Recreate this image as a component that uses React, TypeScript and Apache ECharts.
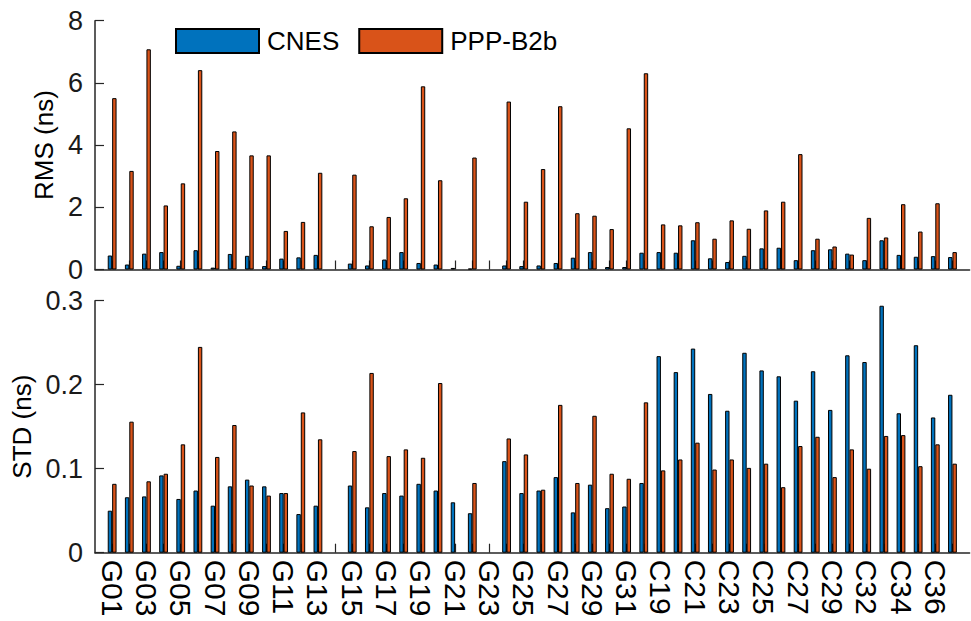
import React, { useEffect, useRef } from "react";
import * as echarts from "echarts";

const categories = [
  "G01","G02","G03","G04","G05","G06","G07","G08","G09","G10",
  "G11","G12","G13","G14","G15","G16","G17","G18","G19","G20",
  "G21","G22","G23","G24","G25","G26","G27","G28","G29","G30",
  "G31","G32","C19","C20","C21","C22","C23","C24","C25","C26",
  "C27","C28","C29","C30","C32","C33","C34","C35","C36","C37",
];

const rmsCNES = [
  0.45,0.16,0.51,0.56,0.12,0.62,0.06,0.50,0.44,0.11,
  0.35,0.39,0.47,null,0.19,0.13,0.32,0.56,0.21,0.16,
  0.05,0.03,null,0.13,0.11,0.13,0.21,0.38,0.56,0.08,
  0.08,0.54,0.56,0.54,0.94,0.36,0.24,0.44,0.68,0.70,
  0.30,0.62,0.65,0.51,0.30,0.94,0.47,0.41,0.43,0.40,
];
const rmsPPP = [
  5.51,3.17,7.08,2.06,2.77,6.41,3.81,4.44,3.67,3.67,
  1.24,1.53,3.11,null,3.05,1.39,1.69,2.29,5.89,2.87,
  null,3.60,null,5.40,2.18,3.23,5.25,1.81,1.73,1.30,
  4.54,6.31,1.45,1.42,1.52,0.99,1.58,1.31,1.90,2.18,
  3.71,0.99,0.74,0.48,1.66,1.03,2.10,1.22,2.13,0.56,
];
const stdCNES = [
  0.050,0.066,0.067,0.092,0.064,0.074,0.056,0.079,0.087,0.079,
  0.071,0.046,0.056,null,0.080,0.054,0.071,0.068,0.082,0.074,
  0.060,0.047,null,0.109,0.071,0.074,0.090,0.048,0.081,0.053,
  0.055,0.083,0.234,0.215,0.243,0.189,0.169,0.238,0.217,0.210,
  0.181,0.216,0.170,0.235,0.227,0.294,0.166,0.247,0.161,0.188,
];
const stdPPP = [
  0.082,0.156,0.085,0.094,0.129,0.245,0.114,0.152,0.080,0.068,
  0.071,0.167,0.135,null,0.121,0.214,0.115,0.123,0.113,0.202,
  null,0.083,null,0.136,0.117,0.075,0.176,0.083,0.163,0.094,
  0.088,0.179,0.098,0.111,0.131,0.099,0.111,0.101,0.106,0.078,
  0.127,0.138,0.090,0.123,0.100,0.139,0.140,0.103,0.129,0.106,
];

const rmsTicks = { min: 0, max: 8, interval: 2 };
const stdTicks = { min: 0, max: 0.3, interval: 0.1 };

const BLUE = "#0072BD";
const ORANGE = "#D95319";
const INK = "#262626";
const FONT = "'Liberation Sans', Arial, sans-serif";

export default function App() {
  const ref = useRef<HTMLDivElement>(null);
  useEffect(() => {
    if (!ref.current) return;
    const chart = echarts.init(ref.current, null, { renderer: "svg" });
    const padded = ["", ...categories, ""];
    const pad = (a: (number | null)[]) => [null, ...a, null];
    const axisLine = { show: true, lineStyle: { color: INK, width: 1.5 } };
    const xAxisBase = (gridIndex: number, showLabels: boolean) => ({
      type: "category",
      gridIndex,
      data: padded,
      boundaryGap: false,
      axisLine,
      axisTick: {
        show: true,
        inside: true,
        length: 9,
        lineStyle: { color: INK, width: 1.2 },
        interval: (_i: number, v: string) => v !== "",
      },
      axisLabel: {
        show: showLabels,
        rotate: -90,
        margin: 7,
        fontSize: 30,
        fontFamily: FONT,
        color: "#000",
        interval: (i: number) => i % 2 === 1,
      },
      splitLine: { show: false },
    });
    const yAxisBase = (gridIndex: number, name: string, t: any, nameGap: number) => ({
      type: "value",
      gridIndex,
      min: t.min,
      max: t.max,
      interval: t.interval,
      name,
      nameLocation: "middle",
      nameGap,
      nameTextStyle: { fontSize: 26, fontFamily: FONT, color: "#000" },
      axisLine,
      axisTick: { show: true, inside: true, length: 9, lineStyle: { color: INK, width: 1.2 } },
      axisLabel: {
        fontSize: 27,
        fontFamily: FONT,
        color: "#1a1a1a",
        margin: 12,
        formatter: (v: number) => String(Math.round(v * 10) / 10),
      },
      splitLine: { show: false },
    });
    const barBase = {
      type: "bar",
      barWidth: 4.4,
      barGap: "0%",
      itemStyle: { borderColor: "#000", borderWidth: 1 },
    };
    chart.setOption({
      animation: false,
      backgroundColor: "#fff",
      legend: {
        left: 170,
        top: 23,
        itemWidth: 83,
        itemHeight: 24,
        itemGap: 19,
        icon: "rect",
        textStyle: { fontSize: 26, fontFamily: FONT, color: "#000", padding: [0, 0, 0, 3] },
        data: ["CNES", "PPP-B2b"],
      },
      grid: [
        { left: 95, top: 20.7, width: 874.6, height: 248.8 },
        { left: 95, top: 300.7, width: 874.6, height: 252 },
      ],
      xAxis: [xAxisBase(0, false), xAxisBase(1, true)],
      yAxis: [
        yAxisBase(0, "RMS (ns)", rmsTicks, 35),
        yAxisBase(1, "STD (ns)", stdTicks, 60),
      ],
      series: [
        { ...barBase, name: "CNES", xAxisIndex: 0, yAxisIndex: 0, data: pad(rmsCNES), itemStyle: { ...barBase.itemStyle, color: BLUE } },
        { ...barBase, name: "PPP-B2b", xAxisIndex: 0, yAxisIndex: 0, data: pad(rmsPPP), itemStyle: { ...barBase.itemStyle, color: ORANGE } },
        { ...barBase, name: "CNES", xAxisIndex: 1, yAxisIndex: 1, data: pad(stdCNES), itemStyle: { ...barBase.itemStyle, color: BLUE } },
        { ...barBase, name: "PPP-B2b", xAxisIndex: 1, yAxisIndex: 1, data: pad(stdPPP), itemStyle: { ...barBase.itemStyle, color: ORANGE } },
      ],
    });
    return () => chart.dispose();
  }, []);
  return (
    <div
      ref={ref}
      style={{ position: "fixed", left: 0, top: 0, width: 971, height: 621, background: "#fff" }}
    />
  );
}
